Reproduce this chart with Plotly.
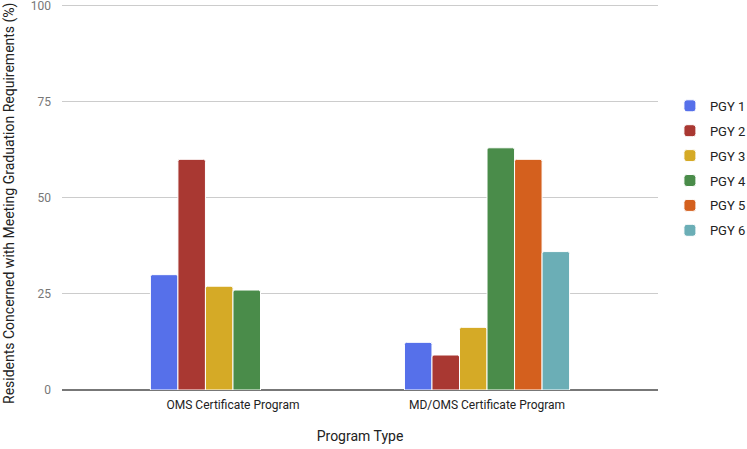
import plotly.graph_objects as go

categories = ["OMS Certificate Program", "MD/OMS Certificate Program"]
series_names = ["PGY 1", "PGY 2", "PGY 3", "PGY 4", "PGY 5", "PGY 6"]
pgy1 = [30, 12.4]
pgy2 = [60, 9.1]
pgy3 = [27, 16.3]
pgy4 = [26, 63]
pgy5 = [None, 60]
pgy6 = [None, 36]
values = [pgy1, pgy2, pgy3, pgy4, pgy5, pgy6]
colors = ["#5670EA", "#A93832", "#D5AA26", "#4A8C4A", "#D4601E", "#6BAEB6"]

fig = go.Figure()
for name, vals, col in zip(series_names, values, colors):
    fig.add_trace(go.Bar(
        x=[0, 1], y=vals, name=name, legendgroup=name,
        marker=dict(color=col, line=dict(color="white", width=1)),
    ))

fig.update_layout(
    width=747, height=449,
    margin=dict(l=62, r=89, t=4, b=59, autoexpand=False),
    plot_bgcolor="white", paper_bgcolor="white",
    font=dict(family="Roboto, Arial, sans-serif", size=12, color="#222222"),
    barmode="group", bargap=0.35, bargroupgap=0.0,
    barcornerradius=2,
    showlegend=True,
    legend=dict(x=1.02, xanchor="left", y=0.775, yanchor="top",
                font=dict(size=13, color="#222222"),
                traceorder="grouped", tracegroupgap=5,
                itemwidth=30),
    xaxis=dict(
        tickmode="array", tickvals=[0, 1], ticktext=categories,
        range=[-0.673, 1.673], showgrid=False, zeroline=False,
        showline=False, ticks="", tickfont=dict(size=12, color="#222222"),
        ticklabelstandoff=6,
        automargin=False,
        title=dict(text="Program Type", font=dict(size=14, color="#222222"), standoff=20),
    ),
    yaxis=dict(
        range=[0, 100.4], tickvals=[0, 25, 50, 75, 100],
        showgrid=True, gridcolor="#CCCCCC", gridwidth=1,
        zeroline=True, zerolinecolor="#777777", zerolinewidth=2,
        ticks="", ticklabelstandoff=10, automargin=False,
        ticklabeloverflow="allow",
        tickfont=dict(size=12, color="#777777"),
    ),
    annotations=[dict(
        text="Residents Concerned with Meeting Graduation Requirements (%)",
        textangle=-90, xref="paper", yref="paper",
        x=(9 - 62) / 596, y=(390 - 203) / 386,
        xanchor="center", yanchor="middle", showarrow=False,
        font=dict(size=14, color="#222222"),
    )],
)

fig.write_html("out.html", config={"displayModeBar": False},
               post_script="document.body.style.margin='0';")
